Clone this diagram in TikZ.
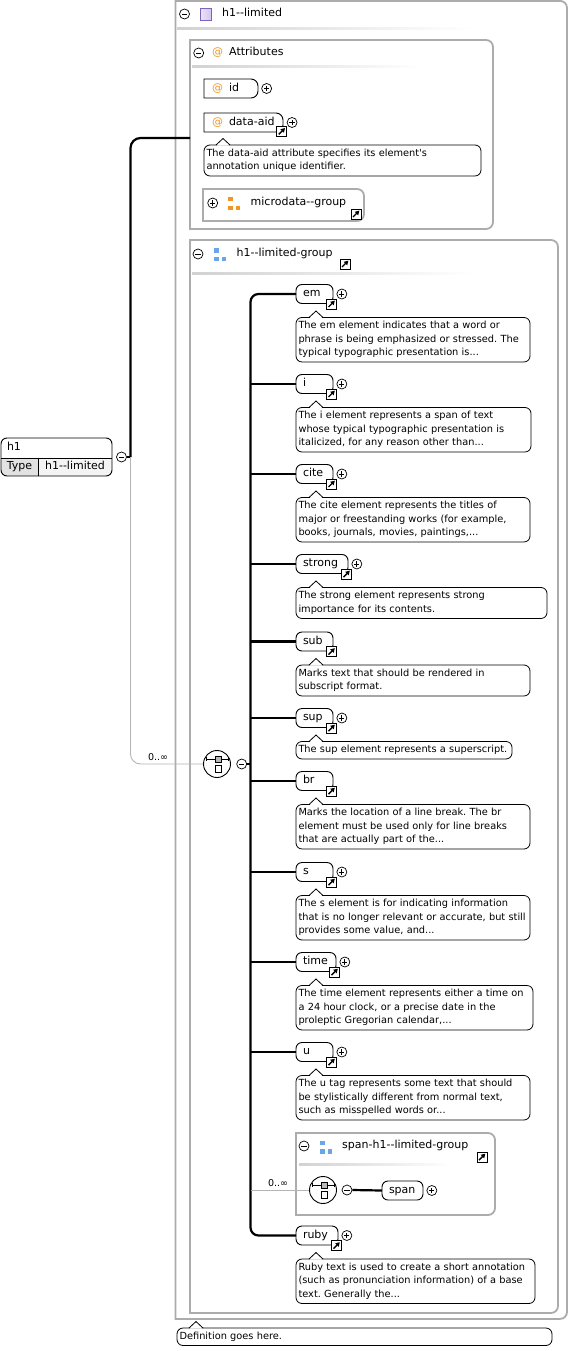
\documentclass[tikz,border=0pt]{standalone}
\usepackage{fontspec}
\usetikzlibrary{arrows.meta,positioning,backgrounds}
\newfontfamily\dgfont{DejaVu Sans}
\definecolor{frameGray}{RGB}{172,172,172}
\definecolor{occGray}{RGB}{180,180,180}
\definecolor{atOrange}{RGB}{242,150,35}
\definecolor{grpBlue}{RGB}{105,165,232}
\definecolor{ctPurple}{RGB}{128,98,186}
\definecolor{ctLilac}{RGB}{208,196,238}
\definecolor{typeGray}{RGB}{226,226,226}
\definecolor{valGray}{RGB}{244,244,244}

\begin{document}
\begin{tikzpicture}[x=1pt, y=-1pt,
  frame/.style={inner sep=0pt, outer sep=0pt, anchor=north west},
  frameline/.style={draw=frameGray, line width=1.8pt},
  rframe/.style={insert path={-- (#1.north) [rounded corners=7pt] -- (#1.north east) -- (#1.south east) -- (#1.south) [sharp corners] -- (#1.south west) -- cycle}},
  fade/.style={left color=frameGray!55, right color=white},
  title/.style={font=\dgfont\fontsize{11}{13}\selectfont, anchor=west, inner sep=0pt, text height=8pt, text depth=2.5pt},
  elem/.style={draw, line width=0.9pt, rounded corners=6pt, fill=white, font=\dgfont\fontsize{11}{13}\selectfont, text width=#1, align=left, inner xsep=7pt, inner ysep=0pt, outer sep=0pt, minimum height=19pt, text height=8pt, text depth=2.5pt, anchor=west},
  attr/.style={font=\dgfont\fontsize{11}{13}\selectfont, text width=#1, align=left, inner xsep=8pt, inner ysep=0pt, outer sep=0pt, minimum height=19pt, text height=8pt, text depth=2.5pt, anchor=west},
  attrline/.style={draw, line width=0.9pt},
  doc/.style={draw, line width=0.8pt, rounded corners=6pt, fill=white, font=\dgfont\fontsize{9.8}{13.5}\selectfont, execute at begin node={\frenchspacing\hyphenpenalty=10000 }, align=left, inner xsep=2.5pt, inner ysep=4pt, outer sep=0pt, anchor=north west},
  docline/.style={draw, line width=0.8pt},
  rootrow/.style={anchor=north west, font=\dgfont\fontsize{11}{13}\selectfont, minimum width=111pt, minimum height=20pt, text width=99pt, align=left, inner xsep=6pt, inner ysep=0pt, outer sep=0pt, text height=8pt, text depth=2.5pt},
  typecell/.style={anchor=north west, font=\dgfont\fontsize{11}{13}\selectfont, minimum height=18pt, inner sep=0pt, outer sep=0pt, text height=8pt, text depth=2.5pt},
  pm/.style={circle, draw, fill=white, line width=0.7pt, minimum size=10pt, inner sep=0pt},
  minus/.style={pm, path picture={\draw[line width=0.8pt] ([xshift=-2.6pt]path picture bounding box.center) -- ([xshift=2.6pt]path picture bounding box.center);}},
  plus/.style={pm, path picture={\draw[line width=0.8pt] ([xshift=-2.6pt]path picture bounding box.center) -- ([xshift=2.6pt]path picture bounding box.center) ([yshift=-2.6pt]path picture bounding box.center) -- ([yshift=2.6pt]path picture bounding box.center);}},
  lnk/.style={draw, fill=white, line width=0.8pt, minimum size=10pt, inner sep=0pt, path picture={\draw[line width=1.4pt, -{Triangle[length=4pt, width=4.6pt]}] ([shift={(-3pt,-3pt)}]path picture bounding box.center) -- ([shift={(3.3pt,3.3pt)}]path picture bounding box.center);}},
  grpicon/.style={minimum width=12pt, minimum height=13pt, inner sep=0pt, path picture={
    \fill[#1] (path picture bounding box.north west) rectangle ++(4.5pt,-4.5pt);
    \fill[#1] (path picture bounding box.south west) rectangle ++(4.5pt,4.5pt);
    \fill[#1] (path picture bounding box.south east) rectangle ++(-4.5pt,4.5pt);}},
  ctbox/.style={draw=ctPurple, line width=0.9pt, minimum size=11.5pt, inner sep=0pt, left color=ctLilac!45, right color=ctLilac},
  seqc/.style={circle, draw, fill=white, line width=0.9pt, minimum size=27pt, inner sep=0pt, path picture={
    \draw[line width=0.8pt] ([shift={(-10.5pt,5pt)}]path picture bounding box.center) -- ([shift={(11pt,5pt)}]path picture bounding box.center);
    \draw[line width=0.8pt] ([shift={(-10.5pt,3.3pt)}]path picture bounding box.center) -- ([shift={(-10.5pt,6.7pt)}]path picture bounding box.center);
    \draw[line width=0.8pt] ([shift={(11pt,3.3pt)}]path picture bounding box.center) -- ([shift={(11pt,6.7pt)}]path picture bounding box.center);
    \filldraw[fill=gray!55, line width=0.6pt] ([shift={(-2pt,2pt)}]path picture bounding box.center) rectangle ([shift={(4.5pt,8pt)}]path picture bounding box.center);
    \draw[fill=white, line width=0.8pt] ([shift={(-2pt,-8pt)}]path picture bounding box.center) rectangle ([shift={(4.5pt,-1.5pt)}]path picture bounding box.center);}},
  bus/.style={line width=2.2pt},
  occ/.style={draw=occGray, line width=0.9pt},
  occlab/.style={font=\dgfont\fontsize{9.5}{11}\selectfont, inner sep=1pt}
]
  \begin{scope}[on background layer]
    \fill[white] (0,0) rectangle (570,1351);
  \end{scope}
  \useasboundingbox (0,0) rectangle (570,1351);

  % complex type frame and its two parts
  \node[frame, minimum width=391.5pt, minimum height=1318pt] (outer) at (175.5,0.9) {};
  \node[frame, minimum width=303pt, minimum height=189pt] (attrs) at (190,40) {};
  \node[frame, minimum width=368pt, minimum height=1073pt] (grp) at (190,240) {};
  \node[frame, minimum width=161pt, minimum height=32pt] (micro) at (203,189) {};
  \draw[frameline] (outer.north west) [rframe=outer];
  \draw[frameline] (attrs.north west) [rframe=attrs];
  \draw[frameline] (grp.north west) [rframe=grp];
  \draw[frameline] (micro.north west) [rframe=micro];
  \shade[fade] (177,28) rectangle (472,30);
  \shade[fade] (192,66) rectangle (422,68);
  \shade[fade] (192,272) rectangle (472,274);

  \node[minus] (outer-m) at (184.5,14) {};
  \node[ctbox] (outer-ic) at (206,14.5) {};
  \node[title] (outer-t) at (222,14) {h1--limited};

  \node[minus] (attrs-m) at (198.7,53) {};
  \node[title, text=atOrange] (attrs-at) at (212,53) {@};
  \node[title] (attrs-t) at (229,53) {Attributes};

  \node[attr=38pt] (id) at (204,88.5) {\textcolor{atOrange}{@}\hspace{6pt}id};
  \draw[attrline] (id.north west) [rframe=id];
  \node[plus, right=3.3pt of id] (id-plus) {};
  \node[attr=63pt] (aid) at (204,122.5) {\textcolor{atOrange}{@}\hspace{6pt}data-aid};
  \draw[attrline] (aid.north west) [rframe=aid];
  \node[lnk] (aid-lnk) at ([xshift=-1.3pt,yshift=0.6pt]aid.south east) {};
  \node[plus, right=3.7pt of aid] (aid-plus) {};
  \node[doc, text width=272pt] (aid-doc) at (204,145) {The data-aid attribute specifies its element's\\annotation unique identifier.};
  \fill[white] ([xshift=12.5pt,yshift=-0.6pt]aid-doc.north west) -- ++(6.5pt,7.1pt) -- ++(6.5pt,-7.1pt) -- cycle;
  \draw[docline] ([xshift=12pt]aid-doc.north west) -- ++(7pt,6.5pt) -- ++(7pt,-6.5pt);

  \node[plus] (micro-p) at (212.7,203) {};
  \node[grpicon=atOrange] (micro-ic) at (234,203.5) {};
  \node[title] (micro-t) at (250.5,203) {microdata--group};
  \node[lnk] (micro-lnk) at (356,214) {};

  \node[minus] (grp-m) at (198,254) {};
  \node[grpicon=grpBlue] (grp-ic) at (220,254.5) {};
  \node[title] (grp-t) at (236.5,254) {h1--limited-group};
  \node[lnk] (grp-lnk) at (345,264) {};

  % root element
  \node[rootrow] (h1) at (1,438) {h1};
  \node[typecell, minimum width=37pt] (h1-type) at (h1.south west) {Type};
  \node[typecell, minimum width=74pt] (h1-val) at (h1-type.north east) {h1--limited};
  \begin{scope}[on background layer]
    \clip[rounded corners=6pt] (h1.north west) rectangle (h1-val.south east);
    \fill[typeGray] (h1-type.north west) rectangle (h1-type.south east);
    \fill[valGray] (h1-val.north west) rectangle (h1-val.south east);
  \end{scope}
  \draw[line width=0.9pt, rounded corners=6pt] (h1.north west) rectangle (h1-val.south east);
  \draw[line width=0.9pt] (h1.south west) -- (h1.south east) (h1-type.north east) -- (h1-type.south east);
  \node[minus] (h1-m) at (121.5,457) {};

  \coordinate (fork) at (130.5,457);
  \node[seqc] (seq) at (217,764) {};
  \node[minus] (seq-m) at (241.7,764) {};
  \coordinate (busx) at (250.5,764);
  \draw[bus] (h1-m.east) -- (fork);
  \draw[bus, rounded corners=10pt] (fork) |- ([yshift=-3.5pt]attrs.west);
  \draw[occ, rounded corners=10pt] (fork) |- (seq.west);
  \node[occlab] (occ1) at (158,757) {0..∞};

  % sequence children
  \foreach \n/\y/\tw/\p/\dr/\txt [count=\k] in {
    em/294/23/1/530/{The em element indicates that a word or\\phrase is being emphasized or stressed. The\\typical typographic presentation is...},
    i/384/23/1/531/{The i element represents a span of text\\whose typical typographic presentation is\\italicized, for any reason other than...},
    cite/474/23/1/530/{The cite element represents the titles of\\major or freestanding works (for example,\\books, journals, movies, paintings,...},
    strong/564/38/1/547/{The strong element represents strong\\importance for its contents.},
    sub/641.5/23/0/530/{Marks text that should be rendered in\\subscript format.},
    sup/718/23/1/512/{The sup element represents a superscript.},
    br/781/23/0/530/{Marks the location of a line break. The br\\element must be used only for line breaks\\that are actually part of the...},
    s/872/23/1/530/{The s element is for indicating information\\that is no longer relevant or accurate, but still\\provides some value, and...},
    time/962/26/1/533/{The time element represents either a time on\\a 24 hour clock, or a precise date in the\\proleptic Gregorian calendar,...},
    u/1052/23/1/530/{The u tag represents some text that should\\be stylistically different from normal text,\\such as misspelled words or...},
    ruby/1235.5/28/1/535/{Ruby text is used to create a short annotation\\(such as pronunciation information) of a base\\text. Generally the...}}{
    \pgfmathsetmacro\dw{\dr-301}
    \node[elem=\tw pt] (\n) at (296,\y) {\n};
    \node[lnk] (\n-lnk) at ([xshift=-1.5pt,yshift=-0.5pt]\n.south east) {};
    \ifnum\p=1 \node[plus, right=3.5pt of \n] (\n-plus) {};\fi
    \node[doc, text width=\dw pt] (\n-doc) at (296,\y+23.5) {\txt};
    \fill[white] ([xshift=13.5pt,yshift=-0.6pt]\n-doc.north west) -- ++(6.5pt,7.1pt) -- ++(6.5pt,-7.1pt) -- cycle;
    \draw[docline] ([xshift=13pt]\n-doc.north west) -- ++(7pt,6.5pt) -- ++(7pt,-6.5pt);
    \ifnum\k>1 \ifnum\k<11 \draw[bus] (\n.west) -- (\n.west -| busx);\fi\fi
  }
  \draw[bus, rounded corners=8pt] (em.west) -- (em.west -| busx) -- (ruby.west -| busx) -- (ruby.west);
  \draw[bus] (seq-m.east) -- (busx);

  % nested group
  \node[frame, minimum width=199pt, minimum height=82pt] (sgrp) at (296,1133) {};
  \draw[frameline] (sgrp.north west) [rframe=sgrp];
  \shade[fade] (299,1163.5) rectangle (452,1165.5);
  \node[minus] (sgrp-m) at (304,1146) {};
  \node[grpicon=grpBlue] (sgrp-ic) at (326,1147) {};
  \node[title] (sgrp-t) at (342,1146) {span-h1--limited-group};
  \node[lnk] (sgrp-lnk) at (482,1157) {};
  \node[seqc] (seq2) at (323,1190) {};
  \node[minus] (seq2-m) at (347,1190) {};
  \node[elem=27pt] (span) at (382,1190.5) {span};
  \node[plus, right=3.5pt of span] (span-plus) {};
  \draw[bus] (seq2-m.east) -- (span.west);
  \draw[occ] (seq2.west -| busx) -- (seq2.west);
  \node[occlab] (occ2) at (278,1183) {0..∞};

  % definition note
  \node[doc, text width=370pt] (def-doc) at (177,1328) {Definition goes here.};
  \fill[white] ([xshift=12.5pt,yshift=-0.6pt]def-doc.north west) -- ++(6.5pt,7.1pt) -- ++(6.5pt,-7.1pt) -- cycle;
  \draw[docline] ([xshift=12pt]def-doc.north west) -- ++(7pt,6.5pt) -- ++(7pt,-6.5pt);
\end{tikzpicture}
\end{document}
